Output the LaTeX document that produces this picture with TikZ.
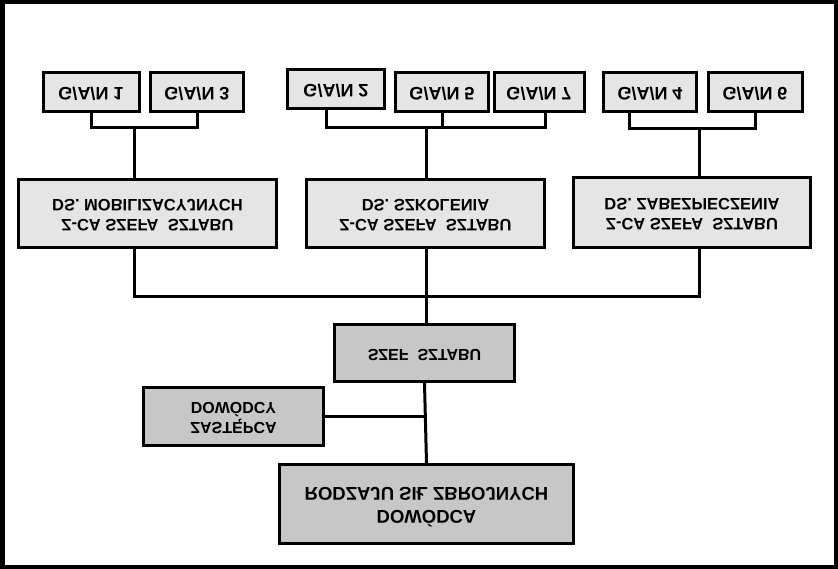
\documentclass[tikz,border=0pt]{standalone}
\usepackage{fontspec}
\setmainfont{Liberation Sans}
\usepackage{graphicx}
\newcommand{\upside}[1]{\scalebox{1}[-1]{\begin{tabular}{@{}c@{}}#1\end{tabular}}}
\begin{document}
\begin{tikzpicture}[x=1pt, y=-1pt,
		box/.style={draw, line width=3pt, fill=black!10, inner sep=0pt},
		gan/.style={box, minimum height=39pt, font=\bfseries\fontsize{18}{20}\selectfont},
		deputy/.style={box, minimum height=68pt, font=\bfseries\fontsize{16.5}{20}\selectfont},
		chief/.style={box, fill=black!22, font=\bfseries\fontsize{16}{20}\selectfont},
		conn/.style={line width=3pt}]
	\useasboundingbox (0, 0) rectangle (838, 569);
	% outer frame
	\draw [line width=4.5pt] (2.25, 2.25) rectangle (835.75, 566.75);
	% top row
	\node [gan, minimum width=96pt] (gan1) at (91, 92) {\upside{G/A/N 1}};
	\node [gan, minimum width=93pt] (gan3) at (197, 92) {\upside{G/A/N 3}};
	\node [gan, minimum width=97pt] (gan2) at (336, 89) {\upside{G/A/N 2}};
	\node [gan, minimum width=93pt] (gan5) at (442, 92) {\upside{G/A/N 5}};
	\node [gan, minimum width=90pt] (gan7) at (539, 92) {\upside{G/A/N 7}};
	\node [gan, minimum width=93pt] (gan4) at (650, 92) {\upside{G/A/N 4}};
	\node [gan, minimum width=94pt] (gan6) at (755, 92) {\upside{G/A/N 6}};
	% deputies
	\node [deputy, minimum width=258pt] (mob) at (147.5, 213.5) {\upside{Z-CA SZEFA\ \ SZTABU\\DS. MOBILIZACYJNYCH}};
	\node [deputy, minimum width=238pt] (szk) at (425.5, 213.5) {\upside{Z-CA SZEFA\ \ SZTABU\\DS. SZKOLENIA}};
	\node [deputy, minimum width=237pt, minimum height=70pt] (zab) at (692, 212.5) {\upside{Z-CA SZEFA\ \ SZTABU\\DS. ZABEZPIECZENIA}};
	% chiefs
	\node [chief, minimum width=180pt, minimum height=57pt] (szef) at (424.5, 353) {\upside{SZEF\ \ SZTABU}};
	\node [chief, minimum width=180pt, minimum height=58pt] (zast) at (233.5, 416.5) {\upside{ZASTĘPCA\\DOWÓDCY}};
	\node [chief, minimum width=294pt, minimum height=79pt, font=\bfseries\fontsize{18.5}{23}\selectfont] (dow) at (426.5, 504) {\upside{DOWÓDCA\\RODZAJU SIŁ ZBROJNYCH}};
	% junctions
	\coordinate (j1) at (134, 128);
	\coordinate (j2) at (426, 128);
	\coordinate (j3) at (699, 129);
	\coordinate (bus) at (426, 297);
	% brackets under top row
	\draw [conn] (gan1.south) |- (j1) -| (gan3.south);
	\draw [conn] (j1) -- (j1 |- mob.north);
	\draw [conn] ([xshift=-10pt]gan2.south) |- (j2) -| ([xshift=6pt]gan7.south);
	\draw [conn] (gan5.south) -- (gan5.south |- j2);
	\draw [conn] (j2) -- (j2 |- szk.north);
	\draw [conn] ([xshift=-21pt]gan4.south) |- (j3) -| (gan6.south);
	\draw [conn] (j3) -- (j3 |- zab.north);
	% bus to chief of staff
	\draw [conn] (j1 |- mob.south) |- (bus) -| (j3 |- zab.south);
	\draw [conn] (j2 |- szk.south) -- (j2 |- szef.north);
	\draw [conn] (szef.south) -- (dow.north);
	\draw [conn] (zast.east) -- (zast.east -| szef.south);
\end{tikzpicture}
\end{document}
